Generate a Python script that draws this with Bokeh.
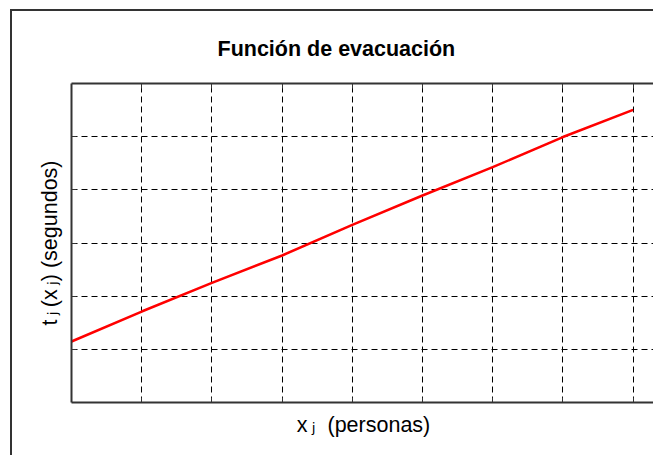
from bokeh.plotting import figure
from bokeh.models import Range1d, FixedTicker, LinearAxis, Title
from bokeh.embed import file_html
from bokeh.resources import INLINE

# data (grid units)
personas = [0, 1, 2, 3, 4, 5, 6, 7, 8]
tiempo = [1.147, 1.711, 2.251, 2.765, 3.342, 3.893, 4.426, 4.993, 5.505]
x_ticks = [1, 2, 3, 4, 5, 6, 7, 8]
y_ticks = [1, 2, 3, 4, 5]
title_text = "Función de evacuación"
x_label = "x\u2009\u2c7c\u00a0 (personas)"
y_label = "t\u2009\u2c7c\u2009(x\u2009\u2c7c) (segundos)"

FONT = "Liberation Sans, DejaVu Sans, Noto Sans"

p = figure(width=643, height=446, output_backend="svg", toolbar_location=None,
           x_range=Range1d(0, 8.319), y_range=Range1d(0, 6),
           x_axis_location=None, y_axis_location=None,
           min_border_left=59, min_border_right=0, min_border_top=72, min_border_bottom=55)
p.margin = (9, 0, 0, 10)
p.styles = {"border-left": "2px solid #333", "border-top": "2px solid #333"}
p.outline_line_color = None
p.background_fill_color = "white"
p.border_fill_color = "white"

def mk_axis(ticks, label=None, standoff=10):
    ax = LinearAxis(ticker=FixedTicker(ticks=ticks))
    ax.axis_line_color = "#333333"
    ax.axis_line_width = 2
    ax.major_tick_in = 5
    ax.major_tick_out = 0
    ax.major_tick_line_color = "#333333"
    ax.minor_tick_line_color = None
    ax.major_label_text_font_size = "0px"
    ax.major_label_text_color = None
    ax.major_label_standoff = 0
    if label:
        ax.axis_label = label
        ax.axis_label_text_font = FONT
        ax.axis_label_text_font_size = "21.5px"
        ax.axis_label_text_font_style = "normal"
        ax.axis_label_text_color = "black"
        ax.axis_label_standoff = standoff
    return ax

p.add_layout(mk_axis(x_ticks, x_label, 10), "below")
p.add_layout(mk_axis(x_ticks), "above")
p.add_layout(mk_axis(y_ticks, y_label, 10), "left")

p.xgrid.ticker = FixedTicker(ticks=x_ticks)
p.ygrid.ticker = FixedTicker(ticks=y_ticks)
for g in (p.xgrid, p.ygrid):
    g.grid_line_color = "black"
    g.grid_line_dash = "6 4"
    g.grid_line_width = 1

p.line(personas, tiempo, line_color="red", line_width=2.5)

# title
t = Title(text=title_text, align="left", offset=146, standoff=45,
          text_font=FONT, text_font_size="21.5px", text_font_style="bold", text_color="black")
p.add_layout(t, "above")

open("out.html", "w").write(file_html(p, INLINE))
